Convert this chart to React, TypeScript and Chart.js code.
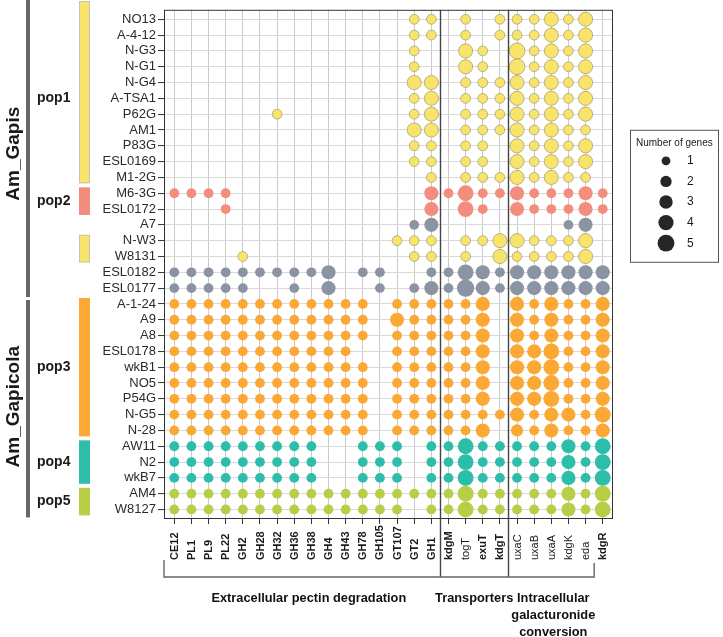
import React, { useEffect, useRef } from 'react';
import { Chart, registerables } from 'chart.js';

Chart.register(...registerables);

const W = 723;
const H = 637;
const FONT = '"Liberation Sans", Arial, Helvetica, sans-serif';

// Strains (rows, top to bottom)
const strains = [
  'NO13', 'A-4-12', 'N-G3', 'N-G1', 'N-G4', 'A-TSA1', 'P62G', 'AM1', 'P83G', 'ESL0169', 'M1-2G',
  'M6-3G', 'ESL0172', 'A7', 'N-W3', 'W8131', 'ESL0182', 'ESL0177',
  'A-1-24', 'A9', 'A8', 'ESL0178', 'wkB1', 'NO5', 'P54G', 'N-G5', 'N-28',
  'AW11', 'N2', 'wkB7', 'AM4', 'W8127',
];

// Population of each strain ('none' = no population bar)
const strainPop = [
  'pop1', 'pop1', 'pop1', 'pop1', 'pop1', 'pop1', 'pop1', 'pop1', 'pop1', 'pop1', 'pop1',
  'pop2', 'pop2', 'none', 'pop1', 'pop1', 'none', 'none',
  'pop3', 'pop3', 'pop3', 'pop3', 'pop3', 'pop3', 'pop3', 'pop3', 'pop3',
  'pop4', 'pop4', 'pop4', 'pop5', 'pop5',
];

const species = ['Am_Gapis', 'Am_Gapicola'];
const speciesRowCount = [18, 14];

// Genes (columns)
const genes = [
  'CE12', 'PL1', 'PL9', 'PL22', 'GH2', 'GH28', 'GH32', 'GH36', 'GH38', 'GH4', 'GH43', 'GH78',
  'GH105', 'GT107', 'GT2', 'GH1', 'kdgM', 'togT', 'exuT', 'kdgT', 'uxaC', 'uxaB', 'uxaA',
  'kdgK', 'eda', 'kdgR',
];
const boldGenes = [
  'CE12', 'PL1', 'PL9', 'PL22', 'GH2', 'GH28', 'GH32', 'GH36', 'GH38', 'GH4', 'GH43', 'GH78',
  'GH105', 'GT107', 'GT2', 'GH1', 'kdgM', 'exuT', 'kdgT', 'kdgR',
];

// Functional categories: [label lines, first gene index, last gene index]
const categoryNames = [['Extracellular pectin degradation'], ['Transporters'], ['Intracellular', 'galacturonide', 'conversion']];
const categoryStart = [0, 16, 20];
const categoryEnd = [15, 19, 24];

// Number of genes per strain (row) and gene (column)
const counts: number[][] = [
  [0, 0, 0, 0, 0, 0, 0, 0, 0, 0, 0, 0, 0, 0, 1, 1, 0, 1, 0, 1, 1, 1, 3, 1, 3, 0], // NO13
  [0, 0, 0, 0, 0, 0, 0, 0, 0, 0, 0, 0, 0, 0, 1, 1, 0, 1, 0, 1, 1, 1, 3, 1, 3, 0], // A-4-12
  [0, 0, 0, 0, 0, 0, 0, 0, 0, 0, 0, 0, 0, 0, 1, 0, 0, 3, 1, 0, 4, 1, 3, 1, 3, 0], // N-G3
  [0, 0, 0, 0, 0, 0, 0, 0, 0, 0, 0, 0, 0, 0, 1, 0, 0, 3, 1, 0, 4, 1, 3, 1, 3, 0], // N-G1
  [0, 0, 0, 0, 0, 0, 0, 0, 0, 0, 0, 0, 0, 0, 3, 3, 0, 1, 1, 1, 3, 1, 3, 1, 3, 0], // N-G4
  [0, 0, 0, 0, 0, 0, 0, 0, 0, 0, 0, 0, 0, 0, 1, 3, 0, 1, 1, 1, 3, 1, 3, 1, 3, 0], // A-TSA1
  [0, 0, 0, 0, 0, 0, 1, 0, 0, 0, 0, 0, 0, 0, 1, 3, 0, 1, 1, 1, 3, 1, 3, 1, 3, 0], // P62G
  [0, 0, 0, 0, 0, 0, 0, 0, 0, 0, 0, 0, 0, 0, 3, 3, 0, 1, 1, 1, 3, 1, 3, 1, 1, 0], // AM1
  [0, 0, 0, 0, 0, 0, 0, 0, 0, 0, 0, 0, 0, 0, 1, 1, 0, 1, 1, 0, 3, 1, 3, 1, 3, 0], // P83G
  [0, 0, 0, 0, 0, 0, 0, 0, 0, 0, 0, 0, 0, 0, 1, 1, 0, 1, 1, 0, 3, 1, 3, 1, 3, 0], // ESL0169
  [0, 0, 0, 0, 0, 0, 0, 0, 0, 0, 0, 0, 0, 0, 0, 1, 0, 1, 1, 1, 3, 1, 3, 1, 1, 0], // M1-2G
  [1, 1, 1, 1, 0, 0, 0, 0, 0, 0, 0, 0, 0, 0, 0, 3, 1, 4, 1, 1, 3, 1, 1, 1, 3, 1], // M6-3G
  [0, 0, 0, 1, 0, 0, 0, 0, 0, 0, 0, 0, 0, 0, 0, 3, 0, 4, 1, 0, 3, 1, 1, 1, 3, 1], // ESL0172
  [0, 0, 0, 0, 0, 0, 0, 0, 0, 0, 0, 0, 0, 0, 1, 3, 0, 0, 0, 0, 0, 0, 0, 1, 3, 0], // A7
  [0, 0, 0, 0, 0, 0, 0, 0, 0, 0, 0, 0, 0, 1, 1, 1, 0, 1, 1, 3, 3, 1, 1, 1, 3, 0], // N-W3
  [0, 0, 0, 0, 1, 0, 0, 0, 0, 0, 0, 0, 0, 0, 1, 1, 0, 1, 0, 3, 1, 1, 1, 1, 3, 0], // W8131
  [1, 1, 1, 1, 1, 1, 1, 1, 1, 3, 0, 1, 1, 0, 0, 1, 1, 4, 3, 1, 3, 3, 3, 3, 3, 3], // ESL0182
  [1, 1, 1, 1, 1, 0, 0, 1, 0, 3, 0, 0, 1, 0, 1, 3, 1, 5, 3, 1, 3, 3, 3, 3, 3, 3], // ESL0177
  [1, 1, 1, 1, 1, 1, 1, 1, 1, 1, 1, 1, 0, 1, 1, 1, 1, 1, 3, 0, 3, 1, 3, 1, 1, 3], // A-1-24
  [1, 1, 1, 1, 1, 1, 1, 1, 1, 1, 1, 1, 0, 3, 1, 1, 1, 1, 3, 0, 3, 1, 3, 1, 1, 3], // A9
  [1, 1, 1, 1, 1, 1, 1, 1, 1, 1, 1, 1, 0, 1, 1, 1, 1, 1, 3, 0, 3, 1, 3, 1, 1, 3], // A8
  [1, 1, 1, 1, 1, 1, 1, 1, 1, 1, 1, 0, 0, 1, 1, 1, 1, 1, 3, 0, 3, 3, 4, 1, 1, 3], // ESL0178
  [1, 1, 1, 1, 1, 1, 1, 1, 1, 1, 1, 1, 0, 1, 1, 1, 1, 1, 3, 0, 3, 3, 4, 1, 1, 3], // wkB1
  [1, 1, 1, 1, 1, 1, 1, 1, 1, 1, 1, 1, 0, 1, 1, 1, 1, 1, 3, 0, 3, 3, 4, 1, 1, 3], // NO5
  [1, 1, 1, 1, 1, 1, 1, 1, 1, 1, 1, 1, 0, 1, 1, 1, 1, 1, 3, 0, 3, 3, 4, 1, 1, 3], // P54G
  [1, 1, 1, 1, 1, 1, 1, 1, 1, 1, 1, 1, 0, 1, 1, 1, 1, 1, 1, 1, 3, 1, 3, 3, 1, 4], // N-G5
  [1, 1, 1, 1, 1, 1, 1, 1, 1, 1, 1, 1, 0, 1, 1, 1, 1, 1, 3, 0, 2, 1, 3, 1, 1, 3], // N-28
  [1, 1, 1, 1, 1, 1, 1, 1, 1, 0, 0, 1, 1, 1, 0, 1, 1, 4, 1, 1, 1, 1, 1, 3, 1, 4], // AW11
  [1, 1, 1, 1, 1, 1, 1, 1, 1, 0, 0, 1, 1, 1, 0, 1, 1, 4, 1, 1, 1, 1, 1, 3, 1, 4], // N2
  [1, 1, 1, 1, 1, 1, 1, 1, 1, 0, 0, 1, 1, 1, 0, 1, 1, 4, 1, 1, 1, 1, 1, 3, 1, 4], // wkB7
  [1, 1, 1, 1, 1, 1, 1, 1, 1, 1, 1, 1, 1, 1, 1, 1, 1, 4, 1, 1, 1, 1, 1, 3, 1, 4], // AM4
  [1, 1, 1, 1, 1, 1, 1, 1, 1, 1, 1, 1, 1, 1, 0, 1, 1, 4, 1, 1, 1, 1, 1, 3, 1, 4], // W8127
];

const legendValues = [1, 2, 3, 4, 5];

// ---- styles ----
const popFill: Record<string, string> = {
  pop1: '#F8E46A',
  pop2: '#F38D7E',
  none: '#8B94A3',
  pop3: '#FBA834',
  pop4: '#2DBEA9',
  pop5: '#B6CF47',
};
const popBorder: Record<string, string> = {
  pop1: '#A8A27A',
  pop2: '#F38D7E',
  none: '#8B94A3',
  pop3: '#FBA834',
  pop4: '#2DBEA9',
  pop5: '#B6CF47',
};
const sizeScale = (rMin: number, rMax: number) => (n: number) =>
  Math.sqrt(rMin * rMin + (n - 1) * (rMax * rMax - rMin * rMin) / 4);
const radiusFor = sizeScale(4.9, 8.7);
const legendRadiusFor = sizeScale(4.4, 8.4);

const popKeys = ['pop1', 'pop2', 'none', 'pop3', 'pop4', 'pop5'];

function buildDatasets() {
  return popKeys.map((key) => {
    const pts: { x: number; y: number; r: number }[] = [];
    strains.forEach((_, ri) => {
      if (strainPop[ri] !== key) return;
      counts[ri].forEach((n, ci) => {
        if (n > 0) pts.push({ x: ci, y: ri, r: radiusFor(n) });
      });
    });
    return {
      label: key,
      data: pts,
      backgroundColor: popFill[key],
      borderColor: popBorder[key],
      borderWidth: key === 'pop1' ? 0.8 : 0,
      hoverRadius: 0,
    };
  });
}

const decorations = {
  id: 'decorations',
  afterDraw(chart: any) {
    const { ctx, chartArea, scales } = chart;
    const xs = scales.x;
    const ys = scales.y;
    const X = (v: number) => xs.getPixelForValue(v);
    const Y = (v: number) => ys.getPixelForValue(v);
    ctx.save();

    // plot frame
    ctx.strokeStyle = '#333';
    ctx.lineWidth = 1;
    ctx.strokeRect(chartArea.left + 0.5, chartArea.top + 0.5, chartArea.right - chartArea.left - 1, chartArea.bottom - chartArea.top - 1);

    // x labels (rotated, starting at bottom)
    const labelBase = chartArea.bottom + 41;
    genes.forEach((g, i) => {
      ctx.save();
      ctx.translate(X(i), labelBase);
      ctx.rotate(-Math.PI / 2);
      ctx.fillStyle = '#1a1a1a';
      ctx.font = `${boldGenes.includes(g) ? 'bold ' : ''}11px ${FONT}`;
      ctx.textAlign = 'left';
      ctx.textBaseline = 'middle';
      ctx.fillText(g, 0, 0.5);
      ctx.restore();
    });

    // separators & bracket
    const bracketY = chartArea.bottom + 58;
    ctx.strokeStyle = '#444';
    ctx.lineWidth = 1.4;
    for (let k = 1; k < categoryStart.length; k++) {
      const sx = Math.round(X(categoryStart[k] - 0.5)) + 0.5;
      ctx.beginPath();
      ctx.moveTo(sx, chartArea.top);
      ctx.lineTo(sx, bracketY);
      ctx.stroke();
    }
    ctx.strokeStyle = '#666';
    ctx.beginPath();
    ctx.moveTo(chartArea.left, chartArea.bottom + 41);
    ctx.lineTo(chartArea.left, bracketY);
    const endX = X(categoryEnd[categoryEnd.length - 1] + 0.5);
    ctx.lineTo(endX, bracketY);
    ctx.lineTo(endX, chartArea.bottom + 44);
    ctx.stroke();

    // category labels
    ctx.fillStyle = '#111';
    ctx.font = `bold 12.8px ${FONT}`;
    ctx.textAlign = 'center';
    ctx.textBaseline = 'middle';
    categoryNames.forEach((lines, k) => {
      let cx = (X(categoryStart[k]) + X(categoryEnd[k])) / 2;
      if (k === 0) cx += 6;
      if (k === 2) cx += 2;
      lines.forEach((ln, li) => {
        ctx.fillText(ln, cx, bracketY + 21 + li * 17);
      });
    });

    // species bars & labels
    let start = 0;
    species.forEach((sp, si) => {
      const end = start + speciesRowCount[si] - 1;
      const top = si === 0 ? 0 : Y(start - 0.5) + 4;
      const bot = si === 0 ? Y(end + 0.5) + 1 : Y(end + 0.5);
      ctx.fillStyle = '#676767';
      ctx.fillRect(26, top, 4, bot - top);
      ctx.save();
      ctx.translate(14, (Y(start) + Y(end)) / 2);
      ctx.rotate(-Math.PI / 2);
      ctx.fillStyle = '#1a1a1a';
      ctx.font = `bold 19px ${FONT}`;
      ctx.textAlign = 'center';
      ctx.textBaseline = 'middle';
      ctx.fillText(sp, 0, 0);
      ctx.restore();
      start = end + 1;
    });

    // population bars & labels
    const seen: Record<string, boolean> = {};
    let i = 0;
    while (i < strains.length) {
      let j = i;
      while (j + 1 < strains.length && strainPop[j + 1] === strainPop[i]) j++;
      const key = strainPop[i];
      if (key !== 'none') {
        const top = i === 0 ? 1 : Y(i - 0.5) + 2;
        const bot = Y(j + 0.5) - 2;
        ctx.fillStyle = popFill[key];
        ctx.fillRect(79, top, 11, bot - top);
        if (key === 'pop1') {
          ctx.strokeStyle = '#bdbdbd';
          ctx.lineWidth = 0.8;
          ctx.strokeRect(79.5, top + 0.5, 10, bot - top - 1);
        }
        if (!seen[key]) {
          seen[key] = true;
          ctx.fillStyle = '#1a1a1a';
          ctx.font = `bold 14px ${FONT}`;
          ctx.textAlign = 'left';
          ctx.textBaseline = 'middle';
          ctx.fillText(key, 37, (Y(i) + Y(j)) / 2);
        }
      }
      i = j + 1;
    }

    // size legend
    const lx = chartArea.right + 17;
    const ly = chartArea.top + 120;
    ctx.strokeStyle = '#555';
    ctx.lineWidth = 1;
    ctx.strokeRect(lx + 0.5, ly + 0.5, 88, 132);
    ctx.fillStyle = '#1a1a1a';
    ctx.font = `10px ${FONT}`;
    ctx.textAlign = 'left';
    ctx.textBaseline = 'middle';
    ctx.fillText('Number of genes', lx + 6, ly + 13);
    legendValues.forEach((v, k) => {
      const cy = ly + 31 + k * 20.6;
      ctx.beginPath();
      ctx.fillStyle = '#262626';
      ctx.arc(lx + 36, cy, legendRadiusFor(v), 0, Math.PI * 2);
      ctx.fill();
      ctx.fillStyle = '#1a1a1a';
      ctx.font = `12px ${FONT}`;
      ctx.fillText(String(v), lx + 57, cy);
    });

    ctx.restore();
  },
};

export default function App() {
  const ref = useRef<HTMLCanvasElement>(null);
  useEffect(() => {
    const canvas = ref.current;
    if (!canvas) return;
    const chart = new Chart(canvas, {
      type: 'bubble',
      data: { datasets: buildDatasets() as any },
      options: {
        animation: false,
        responsive: false,
        maintainAspectRatio: false,
        devicePixelRatio: 1,
        events: [],
        layout: { padding: { left: 0, top: 5, right: 110, bottom: 0 } },
        plugins: { legend: { display: false }, tooltip: { enabled: false } },
        scales: {
          x: {
            type: 'linear',
            position: 'bottom',
            min: -0.6,
            max: genes.length - 1 + 0.6,
            afterBuildTicks: (s: any) => {
              s.ticks = genes.map((_, i) => ({ value: i }));
            },
            afterFit: (s: any) => {
              s.height = H - 519;
            },
            ticks: { display: false },
            grid: {
              color: '#bdbdbd',
              lineWidth: 0.8,
              drawTicks: true,
              tickLength: 5,
              tickColor: '#333',
              tickWidth: 1,
            },
            border: { display: false },
          },
          y: {
            type: 'linear',
            reverse: true,
            min: -0.6,
            max: strains.length - 1 + 0.6,
            afterBuildTicks: (s: any) => {
              s.ticks = strains.map((_, i) => ({ value: i }));
            },
            afterFit: (s: any) => {
              s.width = 164;
            },
            ticks: {
              autoSkip: false,
              callback: (v: any) => strains[v as number] ?? '',
              font: { family: FONT, size: 13 },
              color: '#2a2a2a',
              padding: 2,
            },
            grid: {
              color: '#d9d9d9',
              lineWidth: 1.1,
              drawTicks: true,
              tickLength: 6,
              tickColor: '#333',
              tickWidth: 1,
            },
            border: { display: false },
          },
        },
      },
      plugins: [decorations],
    } as any);
    return () => chart.destroy();
  }, []);

  return (
    <div style={{ position: 'absolute', left: 0, top: 0, width: W, height: H, background: '#fff' }}>
      <canvas ref={ref} width={W} height={H} style={{ display: 'block', width: W, height: H }} />
    </div>
  );
}
